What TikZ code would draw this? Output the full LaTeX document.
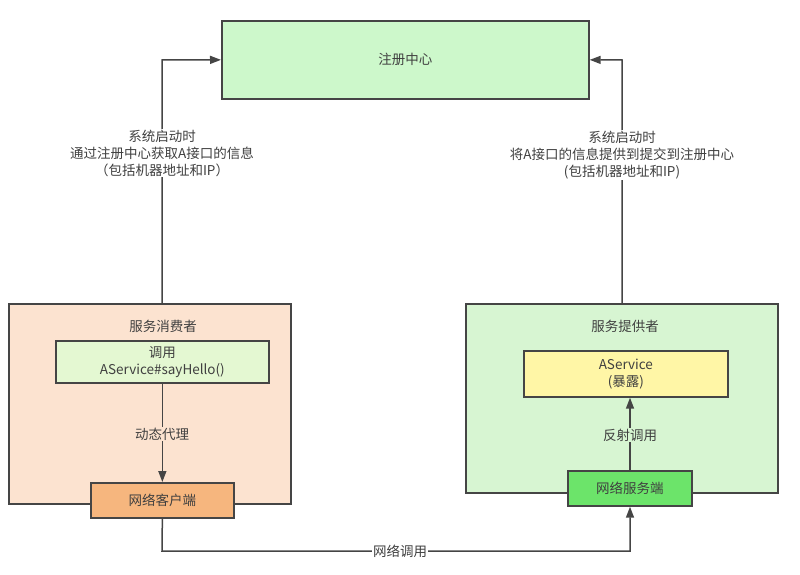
\documentclass[tikz,border=0pt]{standalone}
\usepackage{fontspec}
\setmainfont{Noto Sans CJK SC}
\usetikzlibrary{arrows.meta}
\definecolor{lineC}{HTML}{454545}
\definecolor{regC}{HTML}{CDF8CB}
\definecolor{consC}{HTML}{FCE3D0}
\definecolor{innerG}{HTML}{E4F8D2}
\definecolor{clientC}{HTML}{F6B67E}
\definecolor{provC}{HTML}{D7F5D2}
\definecolor{servC}{HTML}{FFF6A6}
\definecolor{srvNet}{HTML}{6CE46A}
\definecolor{txtC}{HTML}{404040}
\tikzset{
  box/.style={draw=lineC, line width=1.7pt, inner sep=0pt, text=txtC, align=center},
  conn/.style={draw=lineC, line width=1.5pt},
  arr/.style={conn, -{Triangle[length=11pt,width=8pt]}},
  lbl/.style={text=txtC, align=center, font=\fontsize{13.5}{17}\selectfont, inner sep=1pt},
}
\begin{document}
\begin{tikzpicture}[x=1pt,y=-1pt, font=\fontsize{13.5}{17}\selectfont]
\useasboundingbox (0,0) rectangle (800,575);
% containers
\node[box, fill=consC, minimum width=282pt, minimum height=200pt, anchor=north west] (cons) at (8,303) {};
\node[box, fill=provC, minimum width=312pt, minimum height=189pt, anchor=north west] (prov) at (465,303) {};
\node[lbl] (consT) at (163,326) {服务消费者};
\node[lbl] (provT) at (625,326) {服务提供者};
% registry
\node[box, fill=regC, minimum width=367pt, minimum height=78pt, anchor=north west] (reg) at (221,20) {注册中心};
% consumer inner
\node[box, fill=innerG, minimum width=213pt, minimum height=42pt, anchor=north west] (call) at (55,340) {调用\\AService\#sayHello()};
\node[box, fill=clientC, minimum width=143pt, minimum height=35pt, anchor=north west] (client) at (90,482) {网络客户端};
% provider inner
\node[box, fill=servC, minimum width=204pt, minimum height=46pt, anchor=north west] (svc) at (523,350) {AService\\(暴露)};
\node[box, fill=srvNet, minimum width=124pt, minimum height=35pt, anchor=north west] (server) at (567,470) {网络服务端};
% coordinates
\coordinate (c1) at (162,60);
\coordinate (c2) at (622,60);
\coordinate (b1) at (162,551);
\coordinate (b2) at (630,551);
% consumer -> registry
\draw[arr] (cons.north -| c1) -- (c1) -- (reg.west);
\node[lbl, fill=white] (l1) at (162,153) {系统启动时\\通过注册中心获取A接口的信息\\（包括机器地址和IP）};
% provider -> registry
\draw[arr] (prov.north -| c2) -- (c2) -- (reg.east);
\node[lbl, fill=white] (l2) at (622,155) {系统启动时\\将A接口的信息提供到提交到注册中心\\(包括机器地址和IP)};
% dynamic proxy
\draw[arr] (call.south -| client.north) -- (client.north);
\node[lbl, fill=consC] (l3) at (162,434) {动态代理};
% reflection
\draw[arr] (server.north -| b2) -- (svc.south -| b2);
\node[lbl, fill=provC] (l4) at (630,435) {反射调用};
% network call
\draw[arr] (client.south) -- (b1) -- (b2) -- (server.south -| b2);
\node[lbl, fill=white] (l5) at (400,551) {网络调用};
\end{tikzpicture}
\end{document}
